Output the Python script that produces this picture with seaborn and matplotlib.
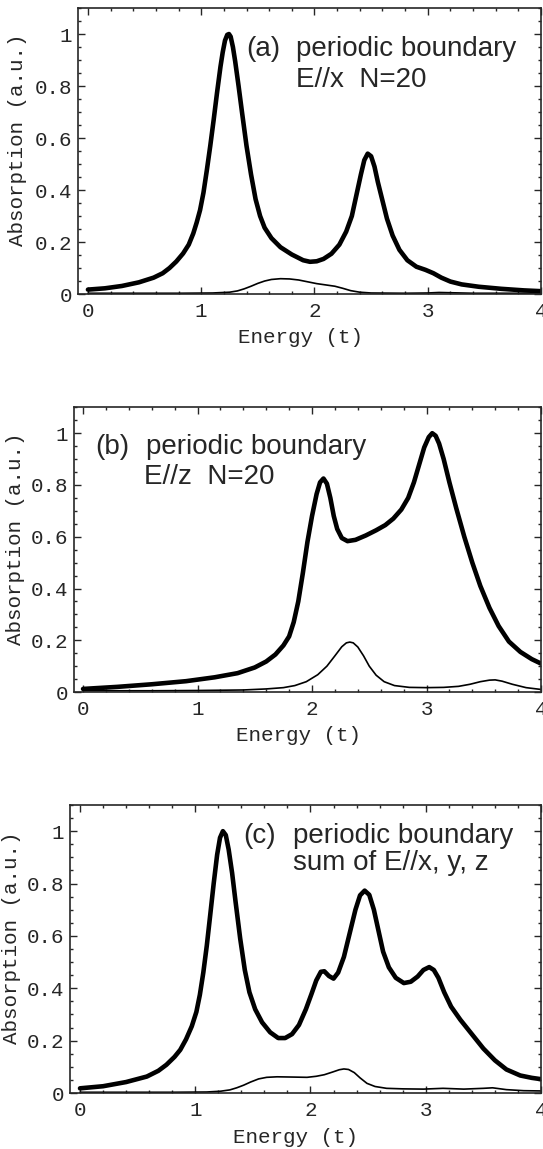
import matplotlib
matplotlib.use("Agg")
import matplotlib.pyplot as plt
import seaborn as sns
from matplotlib.ticker import MultipleLocator

# ---- data ----
# (a) E//x, N=20
energy_a_total = [0.0, 0.15, 0.3, 0.45, 0.58, 0.66, 0.72, 0.78, 0.84, 0.89, 0.93, 0.96, 0.99, 1.02,
                  1.05, 1.08, 1.11, 1.14, 1.17, 1.19, 1.21, 1.23, 1.245, 1.26, 1.28, 1.30, 1.33, 1.36,
                  1.40, 1.44, 1.48, 1.52, 1.56, 1.62, 1.70, 1.80, 1.90, 1.96, 2.02, 2.08, 2.15, 2.22,
                  2.28, 2.33, 2.37, 2.41, 2.44, 2.47, 2.50, 2.53, 2.56, 2.60, 2.64, 2.69, 2.75, 2.82,
                  2.90, 2.98, 3.05, 3.12, 3.20, 3.30, 3.45, 3.65, 3.85, 4.0]
absorb_a_total = [0.017, 0.022, 0.031, 0.045, 0.063, 0.08, 0.1, 0.125, 0.156, 0.19, 0.233, 0.275, 0.323, 0.39,
                  0.477, 0.57, 0.67, 0.775, 0.874, 0.93, 0.975, 0.997, 1.0, 0.99, 0.95, 0.895, 0.80, 0.70,
                  0.57, 0.46, 0.365, 0.30, 0.255, 0.215, 0.18, 0.152, 0.13, 0.124, 0.126, 0.135, 0.155, 0.19,
                  0.24, 0.30, 0.38, 0.46, 0.515, 0.54, 0.53, 0.49, 0.43, 0.36, 0.29, 0.225, 0.17, 0.13,
                  0.105, 0.093, 0.08, 0.063, 0.048, 0.037, 0.028, 0.02, 0.014, 0.011]
energy_a_part = [0.0, 0.8, 1.1, 1.25, 1.32, 1.38, 1.44, 1.50, 1.56, 1.62, 1.70, 1.78, 1.86, 1.94,
                 2.02, 2.10, 2.18, 2.25, 2.32, 2.40, 2.50, 2.8, 3.0, 3.1, 3.2, 3.4, 4.0]
absorb_a_part = [0.003, 0.003, 0.004, 0.007, 0.012, 0.02, 0.03, 0.041, 0.05, 0.056, 0.059, 0.058, 0.054, 0.047,
                 0.04, 0.035, 0.03, 0.022, 0.013, 0.007, 0.004, 0.003, 0.004, 0.006, 0.005, 0.003, 0.003]

# (b) E//z, N=20
energy_b_total = [0.0, 0.3, 0.6, 0.9, 1.15, 1.35, 1.5, 1.6, 1.68, 1.75, 1.80, 1.84, 1.88, 1.92,
                  1.96, 2.00, 2.04, 2.07, 2.10, 2.13, 2.16, 2.19, 2.22, 2.26, 2.31, 2.38, 2.47, 2.56,
                  2.64, 2.71, 2.78, 2.84, 2.89, 2.94, 2.98, 3.02, 3.05, 3.08, 3.11, 3.15, 3.2, 3.26,
                  3.33, 3.40, 3.47, 3.55, 3.63, 3.72, 3.82, 3.92, 4.0]
absorb_b_total = [0.012, 0.02, 0.03, 0.042, 0.057, 0.073, 0.095, 0.118, 0.145, 0.18, 0.215, 0.27, 0.35, 0.46,
                  0.58, 0.68, 0.765, 0.81, 0.825, 0.805, 0.75, 0.68, 0.63, 0.595, 0.583, 0.588, 0.605, 0.625,
                  0.645, 0.67, 0.705, 0.75, 0.81, 0.885, 0.945, 0.985, 1.0, 0.99, 0.96, 0.9, 0.81, 0.71,
                  0.6, 0.5, 0.41, 0.325, 0.255, 0.195, 0.155, 0.127, 0.11]
energy_b_part = [0.0, 0.6, 1.0, 1.4, 1.6, 1.75, 1.85, 1.95, 2.05, 2.13, 2.20, 2.26, 2.30, 2.33,
                 2.36, 2.40, 2.45, 2.50, 2.56, 2.63, 2.72, 2.85, 3.0, 3.15, 3.28, 3.38, 3.47, 3.55,
                 3.60, 3.66, 3.75, 3.87, 4.0]
absorb_b_part = [0.005, 0.005, 0.006, 0.008, 0.012, 0.017, 0.025, 0.04, 0.067, 0.1, 0.14, 0.175, 0.19, 0.193,
                 0.19, 0.174, 0.14, 0.1, 0.065, 0.04, 0.025, 0.018, 0.017, 0.018, 0.022, 0.03, 0.04, 0.046,
                 0.047, 0.042, 0.03, 0.017, 0.01]

# (c) sum of E//x, y, z
energy_c_total = [0.0, 0.2, 0.4, 0.58, 0.68, 0.75, 0.82, 0.87, 0.92, 0.97, 1.01, 1.04, 1.07, 1.10,
                  1.13, 1.16, 1.19, 1.215, 1.24, 1.265, 1.29, 1.32, 1.35, 1.39, 1.43, 1.47, 1.52, 1.58,
                  1.65, 1.72, 1.78, 1.84, 1.90, 1.96, 2.01, 2.05, 2.09, 2.12, 2.16, 2.20, 2.24, 2.29,
                  2.34, 2.39, 2.43, 2.47, 2.51, 2.55, 2.59, 2.63, 2.68, 2.74, 2.81, 2.87, 2.93, 2.98,
                  3.03, 3.07, 3.11, 3.16, 3.22, 3.30, 3.40, 3.50, 3.60, 3.70, 3.82, 3.92, 4.0]
absorb_c_total = [0.018, 0.026, 0.042, 0.063, 0.085, 0.108, 0.138, 0.165, 0.205, 0.255, 0.31, 0.375, 0.46, 0.562,
                  0.68, 0.8, 0.91, 0.975, 1.0, 0.985, 0.93, 0.84, 0.73, 0.59, 0.47, 0.385, 0.32, 0.27,
                  0.232, 0.21, 0.21, 0.225, 0.26, 0.32, 0.38, 0.43, 0.463, 0.465, 0.447, 0.437, 0.46, 0.52,
                  0.61, 0.70, 0.755, 0.773, 0.757, 0.70, 0.62, 0.54, 0.48, 0.44, 0.42, 0.425, 0.445, 0.47,
                  0.481, 0.47, 0.44, 0.385, 0.33, 0.28, 0.225, 0.17, 0.125, 0.09, 0.067, 0.058, 0.053]
energy_c_part = [0.0, 0.8, 1.1, 1.22, 1.30, 1.36, 1.42, 1.48, 1.55, 1.62, 1.71, 1.85, 1.97, 2.05,
                 2.12, 2.19, 2.25, 2.29, 2.33, 2.38, 2.43, 2.49, 2.56, 2.66, 2.8, 2.98, 3.15, 3.33,
                 3.50, 3.58, 3.7, 3.85, 4.0]
absorb_c_part = [0.003, 0.003, 0.004, 0.007, 0.012, 0.02, 0.03, 0.042, 0.054, 0.06, 0.062, 0.061, 0.06, 0.064,
                 0.07, 0.08, 0.089, 0.092, 0.09, 0.078, 0.058, 0.037, 0.025, 0.018, 0.016, 0.015, 0.018, 0.015,
                 0.018, 0.02, 0.013, 0.009, 0.008]

y_ticks = [0, 0.2, 0.4, 0.6, 0.8, 1]
y_tick_labels = ["0", "0.2", "0.4", "0.6", "0.8", "1"]
x_ticks = [0, 1, 2, 3, 4]
x_tick_labels = ["0", "1", "2", "3", "4"]

panels = [
    dict(total=(energy_a_total, absorb_a_total), part=(energy_a_part, absorb_a_part),
         rect=[0.1436, 0.7441, 0.8527, 0.2489], xlim=(-0.088, 4.0),
         tag=("(a)", 1.395, 0.915), lines=[("periodic boundary", 1.837, 0.915), ("E//x  N=20", 1.837, 0.797)],
         ylab_x=-0.11),
    dict(total=(energy_b_total, absorb_b_total), part=(energy_b_part, absorb_b_part),
         rect=[0.1363, 0.3977, 0.8600, 0.2478], xlim=(-0.079, 4.0),
         tag=("(b)", 0.105, 0.918), lines=[("periodic boundary", 0.55, 0.918), ("E//z  N=20", 0.533, 0.805)],
         ylab_x=-0.106),
    dict(total=(energy_c_total, absorb_c_total), part=(energy_c_part, absorb_c_part),
         rect=[0.1280, 0.0487, 0.8683, 0.2507], xlim=(-0.091, 4.0),
         tag=("(c)", 1.417, 0.955), lines=[("periodic boundary", 1.85, 0.955), ("sum of E//x, y, z", 1.85, 0.85)],
         ylab_x=-0.103),
]

sns.set_style("ticks")
plt.rcParams["font.family"] = ["Liberation Mono", "DejaVu Sans"]

fig = plt.figure(figsize=(5.43, 11.49), dpi=100)

for p in panels:
    ax = fig.add_axes(p["rect"])
    sns.lineplot(x=p["total"][0], y=p["total"][1], ax=ax, color="black", linewidth=3.3)
    sns.lineplot(x=p["part"][0], y=p["part"][1], ax=ax, color="black", linewidth=1.2)

    ax.set_xlim(*p["xlim"])
    ax.set_ylim(0, 1.1)
    ax.set_xticks(x_ticks)
    ax.set_xticklabels(x_tick_labels)
    ax.set_yticks(y_ticks)
    ax.set_yticklabels(y_tick_labels)
    ax.xaxis.set_minor_locator(MultipleLocator(0.2))
    ax.yaxis.set_minor_locator(MultipleLocator(0.05))
    ax.tick_params(which="both", direction="in", top=True, right=True, width=1.0, labelsize=15)
    ax.tick_params(which="major", length=5)
    ax.tick_params(which="minor", length=2.5)
    ax.tick_params(axis="x", pad=6)
    ax.tick_params(axis="y", pad=4)
    for s in ax.spines.values():
        s.set_linewidth(1.2)

    ax.set_xlabel("Energy (t)", fontsize=15)
    ax.set_ylabel("Absorption (a.u.)", fontsize=15)
    ax.xaxis.set_label_coords(0.48, -0.12)
    ax.yaxis.set_label_coords(p["ylab_x"], 0.54)

    txt, tx, ty = p["tag"]
    ax.text(tx, ty, txt, fontsize=20, family="Liberation Sans", va="baseline", ha="left")
    for txt, tx, ty in p["lines"]:
        ax.text(tx, ty, txt, fontsize=20, family="Liberation Sans", va="baseline", ha="left")

fig.savefig("out.png", dpi=100)
